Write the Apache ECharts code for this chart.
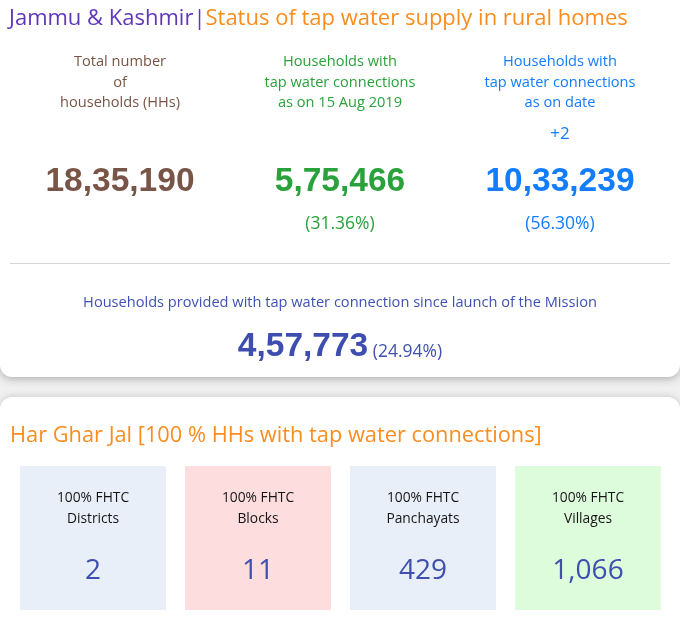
<!DOCTYPE html>
<html><head><meta charset="utf-8">
<script src="https://cdn.jsdelivr.net/npm/echarts@6/dist/echarts.min.js"></script>
<style>html,body{margin:0;padding:0;background:#f0f0f0}#c{width:680px;height:634px}</style>
</head><body><div id="c"></div>
<script>
// ---- data ----
const stateName = 'Jammu & Kashmir';
const titleText = 'Status of tap water supply in rural homes';
const summaryLabels = [
  ['Total number', 'of', 'households (HHs)'],
  ['Households with', 'tap water connections', 'as on 15 Aug 2019'],
  ['Households with', 'tap water connections', 'as on date']
];
const summaryValues = [1835190, 575466, 1033239];
const summaryPercents = [null, '31.36%', '56.30%'];
const summaryDelta = [null, null, '+2'];
const missionLabel = 'Households provided with tap water connection since launch of the Mission';
const missionValue = 457773;
const missionPercent = '24.94%';
const hgjTitle = 'Har Ghar Jal [100 % HHs with tap water connections]';
const boxLabels = ['Districts', 'Blocks', 'Panchayats', 'Villages'];
const boxValues = [2, 11, 429, 1066];

// ---- formatting ----
function indian(n) {
  const s = String(n);
  if (s.length <= 3) return s;
  let last3 = s.slice(-3), rest = s.slice(0, -3);
  rest = rest.replace(/\B(?=(\d{2})+(?!\d))/g, ',');
  return rest + ',' + last3;
}
function intl(n) { return String(n).replace(/\B(?=(\d{3})+(?!\d))/g, ','); }

const FONT = '"Open Sans", "Noto Sans", sans-serif';
const NUMFONT = '"Liberation Sans", Arial, sans-serif';
const colColors = ['#785546', '#2aa23c', '#127dff'];
const colX = [120, 340, 560];
const indigo = '#3d4db0';

const g = [];
// cards
g.push({type:'rect', shape:{x:0,y:-20,width:680,height:397,r:12}, style:{fill:'#fff', shadowBlur:8, shadowColor:'rgba(0,0,0,0.28)', shadowOffsetY:2}, z:0});
g.push({type:'rect', shape:{x:0,y:397,width:680,height:260,r:12}, style:{fill:'#fff', shadowBlur:6, shadowColor:'rgba(0,0,0,0.15)', shadowOffsetY:-1}, z:0});
// title
g.push({type:'text', x:9, y:19, z:2, style:{
  text:'{a|' + stateName + '}{b||}{c|' + titleText + '}',
  verticalAlign:'middle', align:'left',
  rich:{
    a:{fontFamily:FONT, fontSize:22, fill:'#5f37b8'},
    b:{fontFamily:FONT, fontSize:22, fill:'#5f37b8'},
    c:{fontFamily:FONT, fontSize:22, fill:'#fb8c1e'}
  }}});
// summary columns
summaryLabels.forEach((lines, i) => {
  lines.forEach((ln, j) => {
    g.push({type:'text', x:colX[i], y:62 + j*20.5, z:2, style:{text:ln, align:'center', verticalAlign:'middle', fontFamily:FONT, fontSize:14.6, fill:colColors[i]}});
  });
  if (summaryDelta[i]) g.push({type:'text', x:colX[i], y:134, z:2, style:{text:summaryDelta[i], align:'center', verticalAlign:'middle', fontFamily:FONT, fontSize:17, fill:colColors[i]}});
  g.push({type:'text', x:colX[i], y:182, z:2, style:{text:indian(summaryValues[i]), align:'center', verticalAlign:'middle', fontFamily:NUMFONT, fontWeight:'bold', fontSize:33.5, fill:colColors[i]}});
  if (summaryPercents[i]) g.push({type:'text', x:colX[i], y:224, z:2, style:{text:'(' + summaryPercents[i] + ')', align:'center', verticalAlign:'middle', fontFamily:FONT, fontSize:17.5, fill:colColors[i]}});
});
// divider
g.push({type:'line', shape:{x1:10,y1:263.5,x2:670,y2:263.5}, style:{stroke:'#d4d4d4', lineWidth:1}, z:2});
// mission
g.push({type:'text', x:340, y:303, z:2, style:{text:missionLabel, align:'center', verticalAlign:'middle', fontFamily:FONT, fontSize:14.6, fill:'#3f51b5'}});
g.push({type:'text', x:340, y:347, z:2, style:{
  text:'{a|' + indian(missionValue) + '}{b| (' + missionPercent + ')}',
  align:'center', verticalAlign:'middle',
  rich:{
    a:{fontFamily:NUMFONT, fontWeight:'bold', fontSize:33.5, fill:indigo, verticalAlign:'bottom'},
    b:{fontFamily:FONT, fontSize:17.5, fill:'#3f51b5', verticalAlign:'bottom', padding:[0,0,3,0]}
  }}});
// Har Ghar Jal
g.push({type:'text', x:10, y:435.5, z:2, style:{text:hgjTitle, align:'left', verticalAlign:'middle', fontFamily:FONT, fontSize:21.8, fill:'#fb8c1e'}});
const boxColors = ['#e9eff9', '#fddddd', '#e9eff9', '#ddfcdc'];
const boxX = [20, 185, 350, 515];
boxLabels.forEach((lb, i) => {
  g.push({type:'rect', shape:{x:boxX[i], y:466, width:146, height:144}, style:{fill:boxColors[i]}, z:1});
  const cx = boxX[i] + 73;
  g.push({type:'text', x:cx, y:498, z:2, style:{text:'100% FHTC', align:'center', verticalAlign:'middle', fontFamily:FONT, fontWeight:500, fontSize:13.8, fill:'#151515'}});
  g.push({type:'text', x:cx, y:519, z:2, style:{text:lb, align:'center', verticalAlign:'middle', fontFamily:FONT, fontWeight:500, fontSize:13.8, fill:'#151515'}});
  g.push({type:'text', x:cx, y:571.5, z:2, style:{text:intl(boxValues[i]), align:'center', verticalAlign:'middle', fontFamily:FONT, fontSize:28, fill:'#3e4fae'}});
});

const chart = echarts.init(document.getElementById('c'), null, {renderer:'canvas'});
chart.setOption({backgroundColor:'#f0f0f0', animation:false, graphic:{elements:g}});
</script></body></html>
